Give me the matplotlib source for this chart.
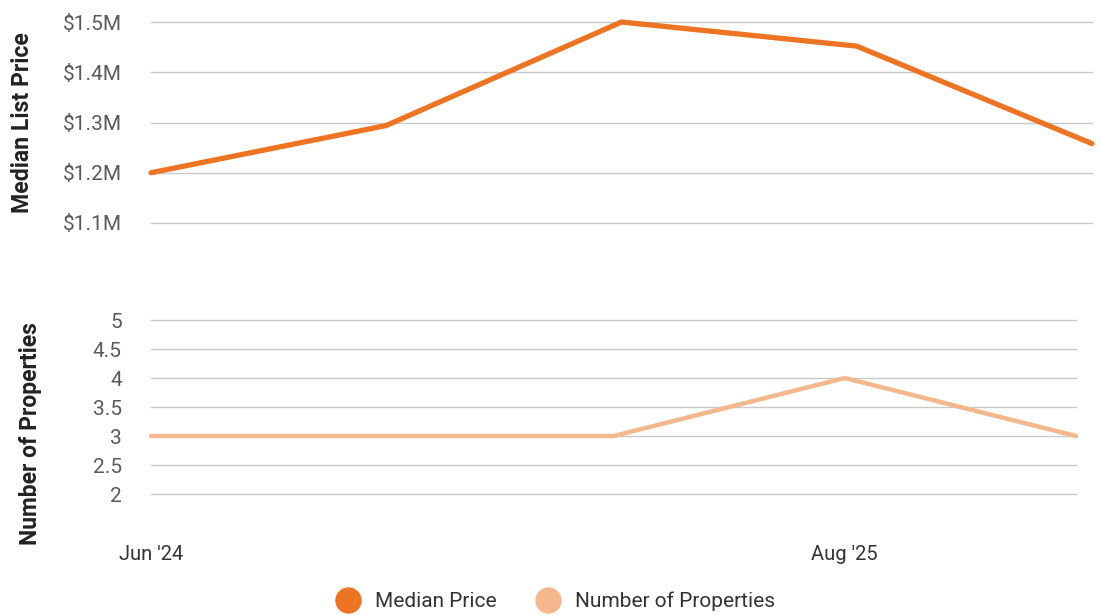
import matplotlib.pyplot as plt
from matplotlib.lines import Line2D

plt.rcParams['font.family'] = ['Roboto', 'DejaVu Sans']

# data
periods = ["Jun '24", "", "", "Aug '25", ""]
median_price = [1.200, 1.294, 1.500, 1.452, 1.258]   # $M
num_properties = [3, 3, 3, 4, 3]

price_ticks = [1.1, 1.2, 1.3, 1.4, 1.5]
count_ticks = [2, 2.5, 3, 3.5, 4, 4.5, 5]

c_price = '#EC7422'
c_count = '#F5B78C'
grid_c = '#C9C9C9'
tick_c = '#5A5A5A'

fig = plt.figure(figsize=(11.02, 6.15), dpi=100)

# top panel: median price
ax1 = fig.add_axes([0.137, 0.6374, 0.8539, 0.3268])
ax1.plot(range(len(median_price)), median_price, color=c_price, lw=3.8,
         solid_capstyle='round', solid_joinstyle='round', zorder=3, clip_on=False)
ax1.set_xlim(0, len(median_price) - 1)
ax1.set_ylim(1.1, 1.5)
ax1.set_yticks(price_ticks)
ax1.set_yticklabels([f'${v:.1f}M' for v in price_ticks])
ax1.set_xticks([])
ax1.set_ylabel('Median List Price', fontsize=16.6, fontweight='bold', color='#222222')
ax1.yaxis.set_label_coords(-0.1244, 0.5)

# bottom panel: number of properties
ax2 = fig.add_axes([0.137, 0.1967, 0.8394, 0.2829])
ax2.plot(range(len(num_properties)), num_properties, color=c_count, lw=3.2,
         solid_capstyle='round', solid_joinstyle='round', zorder=3, clip_on=False)
ax2.set_xlim(0, len(num_properties) - 1)
ax2.set_ylim(2, 5)
ax2.set_yticks(count_ticks)
ax2.set_yticklabels([f'{v:g}' for v in count_ticks])
ax2.set_xticks([i for i, p in enumerate(periods) if p])
ax2.set_xticklabels([p for p in periods if p])
ax2.set_ylabel('Number of Properties', fontsize=16.5, fontweight='bold', color='#222222')
ax2.yaxis.set_label_coords(-0.1178, 0.35)

for ax in (ax1, ax2):
    for s in ax.spines.values():
        s.set_visible(False)
    ax.grid(axis='y', color=grid_c, lw=1)
    for gl in ax.get_ygridlines():
        gl.set_clip_on(False)
    ax.set_axisbelow(True)
    ax.tick_params(axis='y', length=0, pad=21, labelsize=15, labelcolor=tick_c)
    ax.tick_params(axis='x', length=0, pad=37, labelsize=14.5, labelcolor='#333333')
    ax.patch.set_visible(False)

handles = [
    Line2D([], [], marker='o', ls='none', markersize=18, color=c_price, label='Median Price'),
    Line2D([], [], marker='o', ls='none', markersize=18, color=c_count, label='Number of Properties'),
]
fig.legend(handles=handles, loc='center', bbox_to_anchor=(0.500, 0.022), ncol=2,
           frameon=False, fontsize=15, handletextpad=0.3, columnspacing=1.47,
           labelcolor='#333333')

fig.savefig('out.png', dpi=100)
